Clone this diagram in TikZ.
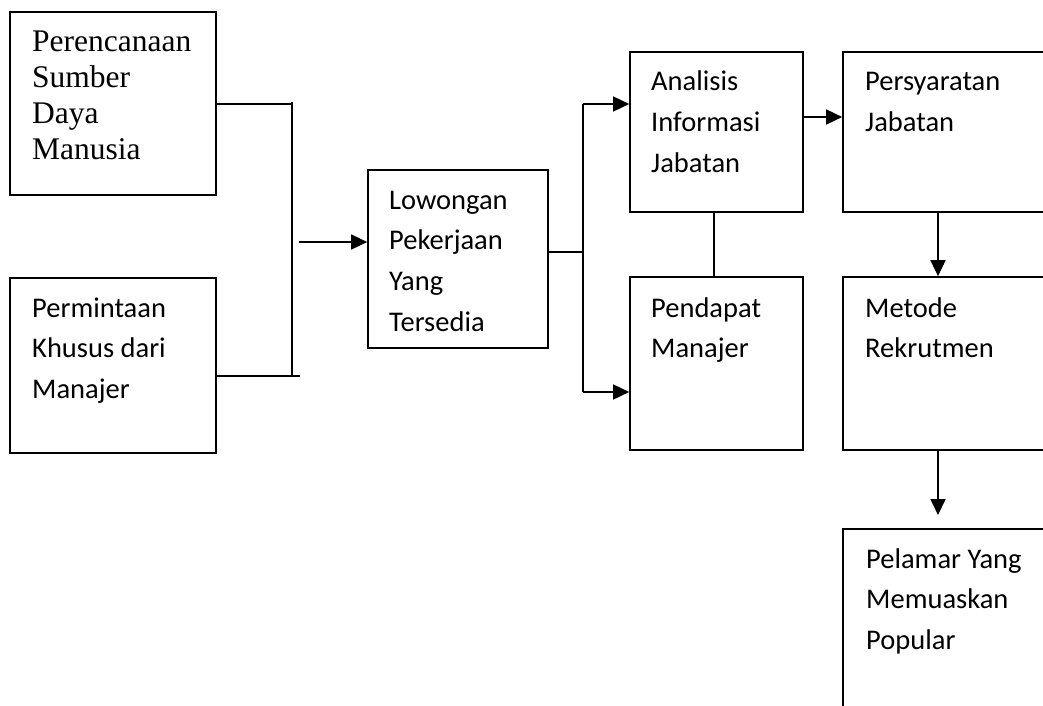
\documentclass[tikz,border=0pt]{standalone}
\usepackage{fontspec}
\setmainfont{Carlito}
\newfontfamily\timesf{Liberation Serif}
\usetikzlibrary{arrows.meta}
\newcommand{\stack}[1]{\vtop{\halign{##\hfil\cr#1\crcr}}}
\begin{document}
\begin{tikzpicture}[x=1pt,y=-1pt,
  box/.style={draw,line width=1.7pt,inner sep=0pt,rectangle},
  con/.style={line width=1.7pt},
  arr/.style={line width=1.7pt,-{Triangle[length=16pt,width=15pt]}},
  txt/.style={inner sep=0pt,anchor=base west,font=\fontsize{28.5}{40.7}\selectfont},
  serif/.style={inner sep=0pt,anchor=base west,font=\fontsize{31.5}{36}\selectfont\timesf}]
\useasboundingbox (0,0) rectangle (1043,706);
\clip (0,0) rectangle (1043,706);
\fill[white] (0,0) rectangle (1043,706);
% boxes
\node[box,minimum width=206pt,minimum height=183pt] (b1) at (113,103.5) {};
\node[box,minimum width=206pt,minimum height=175pt] (b2) at (113,365.5) {};
\node[box,minimum width=180pt,minimum height=178pt] (b3) at (458,259) {};
\node[box,minimum width=173pt,minimum height=160pt] (b4) at (716.5,132) {};
\node[box,minimum width=173pt,minimum height=173pt] (b5) at (716.5,363.5) {};
\node[box,minimum width=217pt,minimum height=160pt] (b6) at (951.5,132) {};
\node[box,minimum width=217pt,minimum height=173pt] (b7) at (951.5,363.5) {};
\node[box,minimum width=217pt,minimum height=201pt] (b8) at (951.5,629.5) {};
% texts
\node[serif] (t1) at (32,52) {\stack{Perencanaan\cr Sumber\cr Daya\cr Manusia}};
\node[txt] (t2) at (32,317) {\stack{Permintaan\cr Khusus dari\cr Manajer}};
\node[txt] (t3) at (389,209) {\stack{Lowongan\cr Pekerjaan\cr Yang\cr Tersedia}};
\node[txt] (t4) at (651,91) {\stack{Analisis\cr Informasi\cr Jabatan}};
\node[txt] (t5) at (651,317) {\stack{Pendapat\cr Manajer}};
\node[txt] (t6) at (865,91) {\stack{Persyaratan\cr Jabatan}};
\node[txt] (t7) at (865,317) {\stack{Metode\cr Rekrutmen}};
\node[txt] (t8) at (866,568) {\stack{Pelamar Yang\cr Memuaskan\cr Popular}};
% left bracket
\coordinate (h1) at (292,104);
\coordinate (v1t) at (292,102);
\coordinate (v1b) at (292,376);
\coordinate (h2) at (300,376);
\coordinate (a1) at (299,242);
\draw[con] (h1 -| b1.east) -- (h1);
\draw[con] (v1t) -- (v1b);
\draw[con] (h2 -| b2.east) -- (h2);
\draw[arr] (a1) -- (a1 -| b3.west);
% right bracket
\coordinate (j2) at (583,252);
\coordinate (v2t) at (583,104);
\coordinate (v2b) at (583,392);
\draw[con] (j2 -| b3.east) -- (j2);
\draw[con] (v2t) -- (v2b);
\draw[arr] (v2t) -- (v2t -| b4.west);
\draw[arr] (v2b) -- (v2b -| b5.west);
% analisis - pendapat
\coordinate (c4) at (714,0);
\draw[con] (b4.south -| c4) -- (b5.north -| c4);
% analisis -> persyaratan
\coordinate (a4) at (0,117);
\draw[arr] (a4 -| b4.east) -- (a4 -| b6.west);
% verticals on right
\coordinate (c6) at (938,0);
\coordinate (e8) at (938,515);
\draw[arr] (b6.south -| c6) -- (b7.north -| c6);
\draw[arr] (b7.south -| c6) -- (e8);
\end{tikzpicture}
\end{document}
